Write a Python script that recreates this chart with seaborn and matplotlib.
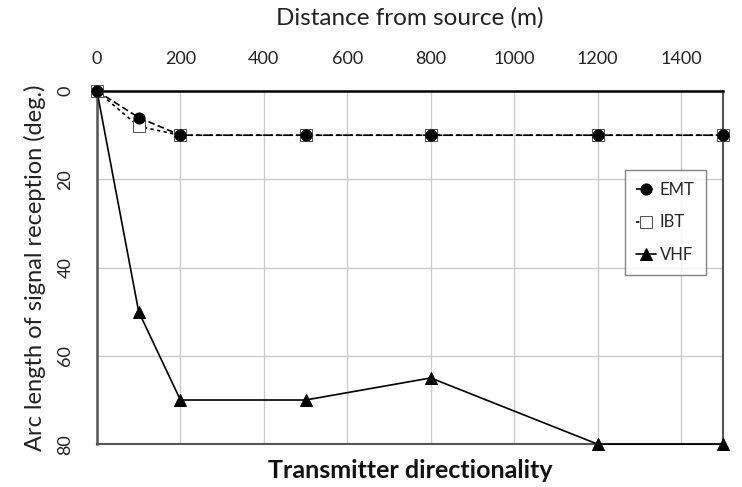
import matplotlib
matplotlib.use("Agg")
import matplotlib.pyplot as plt
import seaborn as sns
import pandas as pd

distance = [0, 100, 200, 500, 800, 1200, 1500]
emt = [0, 6, 10, 10, 10, 10, 10]
ibt = [0, 8, 10, 10, 10, 10, 10]
vhf = [0, 50, 70, 70, 65, 80, 80]
series_names = ["EMT", "IBT", "VHF"]

sns.set_style("white")
plt.rcParams['font.family'] = ['Lato', 'DejaVu Sans']

df = pd.DataFrame({
    "distance": distance * 3,
    "arc": emt + ibt + vhf,
    "series": [s for s in series_names for _ in distance],
})

fig = plt.figure(figsize=(7.42, 4.87), dpi=100)
ax = fig.add_axes([0.1307, 0.088, 0.974 - 0.1307, 0.813 - 0.088])

styles = {
    "EMT": dict(marker="o", linestyle=(0, (4, 2)), mfc="black", mec="black", ms=8),
    "IBT": dict(marker="s", linestyle=(0, (2, 2)), mfc="white", mec="#555555", ms=8),
    "VHF": dict(marker="^", linestyle="-", mfc="black", mec="black", ms=8),
}
order = ["VHF", "IBT", "EMT"]
for name in order:
    sub = df[df["series"] == name]
    sns.lineplot(data=sub, x="distance", y="arc", ax=ax, color="black", lw=1.2,
                 marker=styles[name]["marker"], linestyle=styles[name]["linestyle"],
                 markerfacecolor=styles[name]["mfc"], markeredgecolor=styles[name]["mec"],
                 markersize=styles[name]["ms"], clip_on=False, label=name, zorder=3)

ax.set_xlim(0, 1500)
ax.set_ylim(80, 0)
ax.set_xticks(range(0, 1500, 200))
ax.set_yticks([0, 20, 40, 60, 80])
ax.xaxis.tick_top()
ax.xaxis.set_label_position("top")
ax.set_xlabel("Distance from source (m)", fontsize=17.5, labelpad=19, color="#222222")
ax.set_ylabel("Arc length of signal reception (deg.)", fontsize=17, labelpad=8, color="#222222")
ax.set_title("Transmitter directionality", fontsize=18, fontweight="bold", y=-0.12, color="#111111")

ax.grid(True, color="#cccccc", lw=1)
ax.set_axisbelow(True)
ax.spines["top"].set_color("black")
ax.spines["top"].set_linewidth(1.8)
ax.spines["left"].set_color("#555555")
ax.spines["left"].set_linewidth(1.8)
ax.spines["right"].set_color("#555555")
ax.spines["right"].set_linewidth(1.5)
ax.spines["bottom"].set_color("#555555")
ax.spines["bottom"].set_linewidth(1.5)
ax.tick_params(axis="both", labelsize=13, colors="#222222")
ax.tick_params(axis="x", direction="out", length=0, pad=17)
ax.tick_params(axis="y", direction="out", length=5, width=1, pad=12, labelrotation=90,
               color="#777777")
for lab in ax.get_yticklabels():
    lab.set_va("center")

h, l = ax.get_legend_handles_labels()
idx = [l.index(n) for n in series_names]
leg = ax.legend([h[i] for i in idx], [l[i] for i in idx], loc="upper left",
                bbox_to_anchor=(0.83, 0.80), frameon=True, fancybox=False,
                edgecolor="#666666", fontsize=12, handlelength=1.2, handletextpad=0.2,
                labelspacing=1.0, borderpad=0.7)
leg.get_frame().set_linewidth(1)

fig.savefig("out.png", dpi=100)
